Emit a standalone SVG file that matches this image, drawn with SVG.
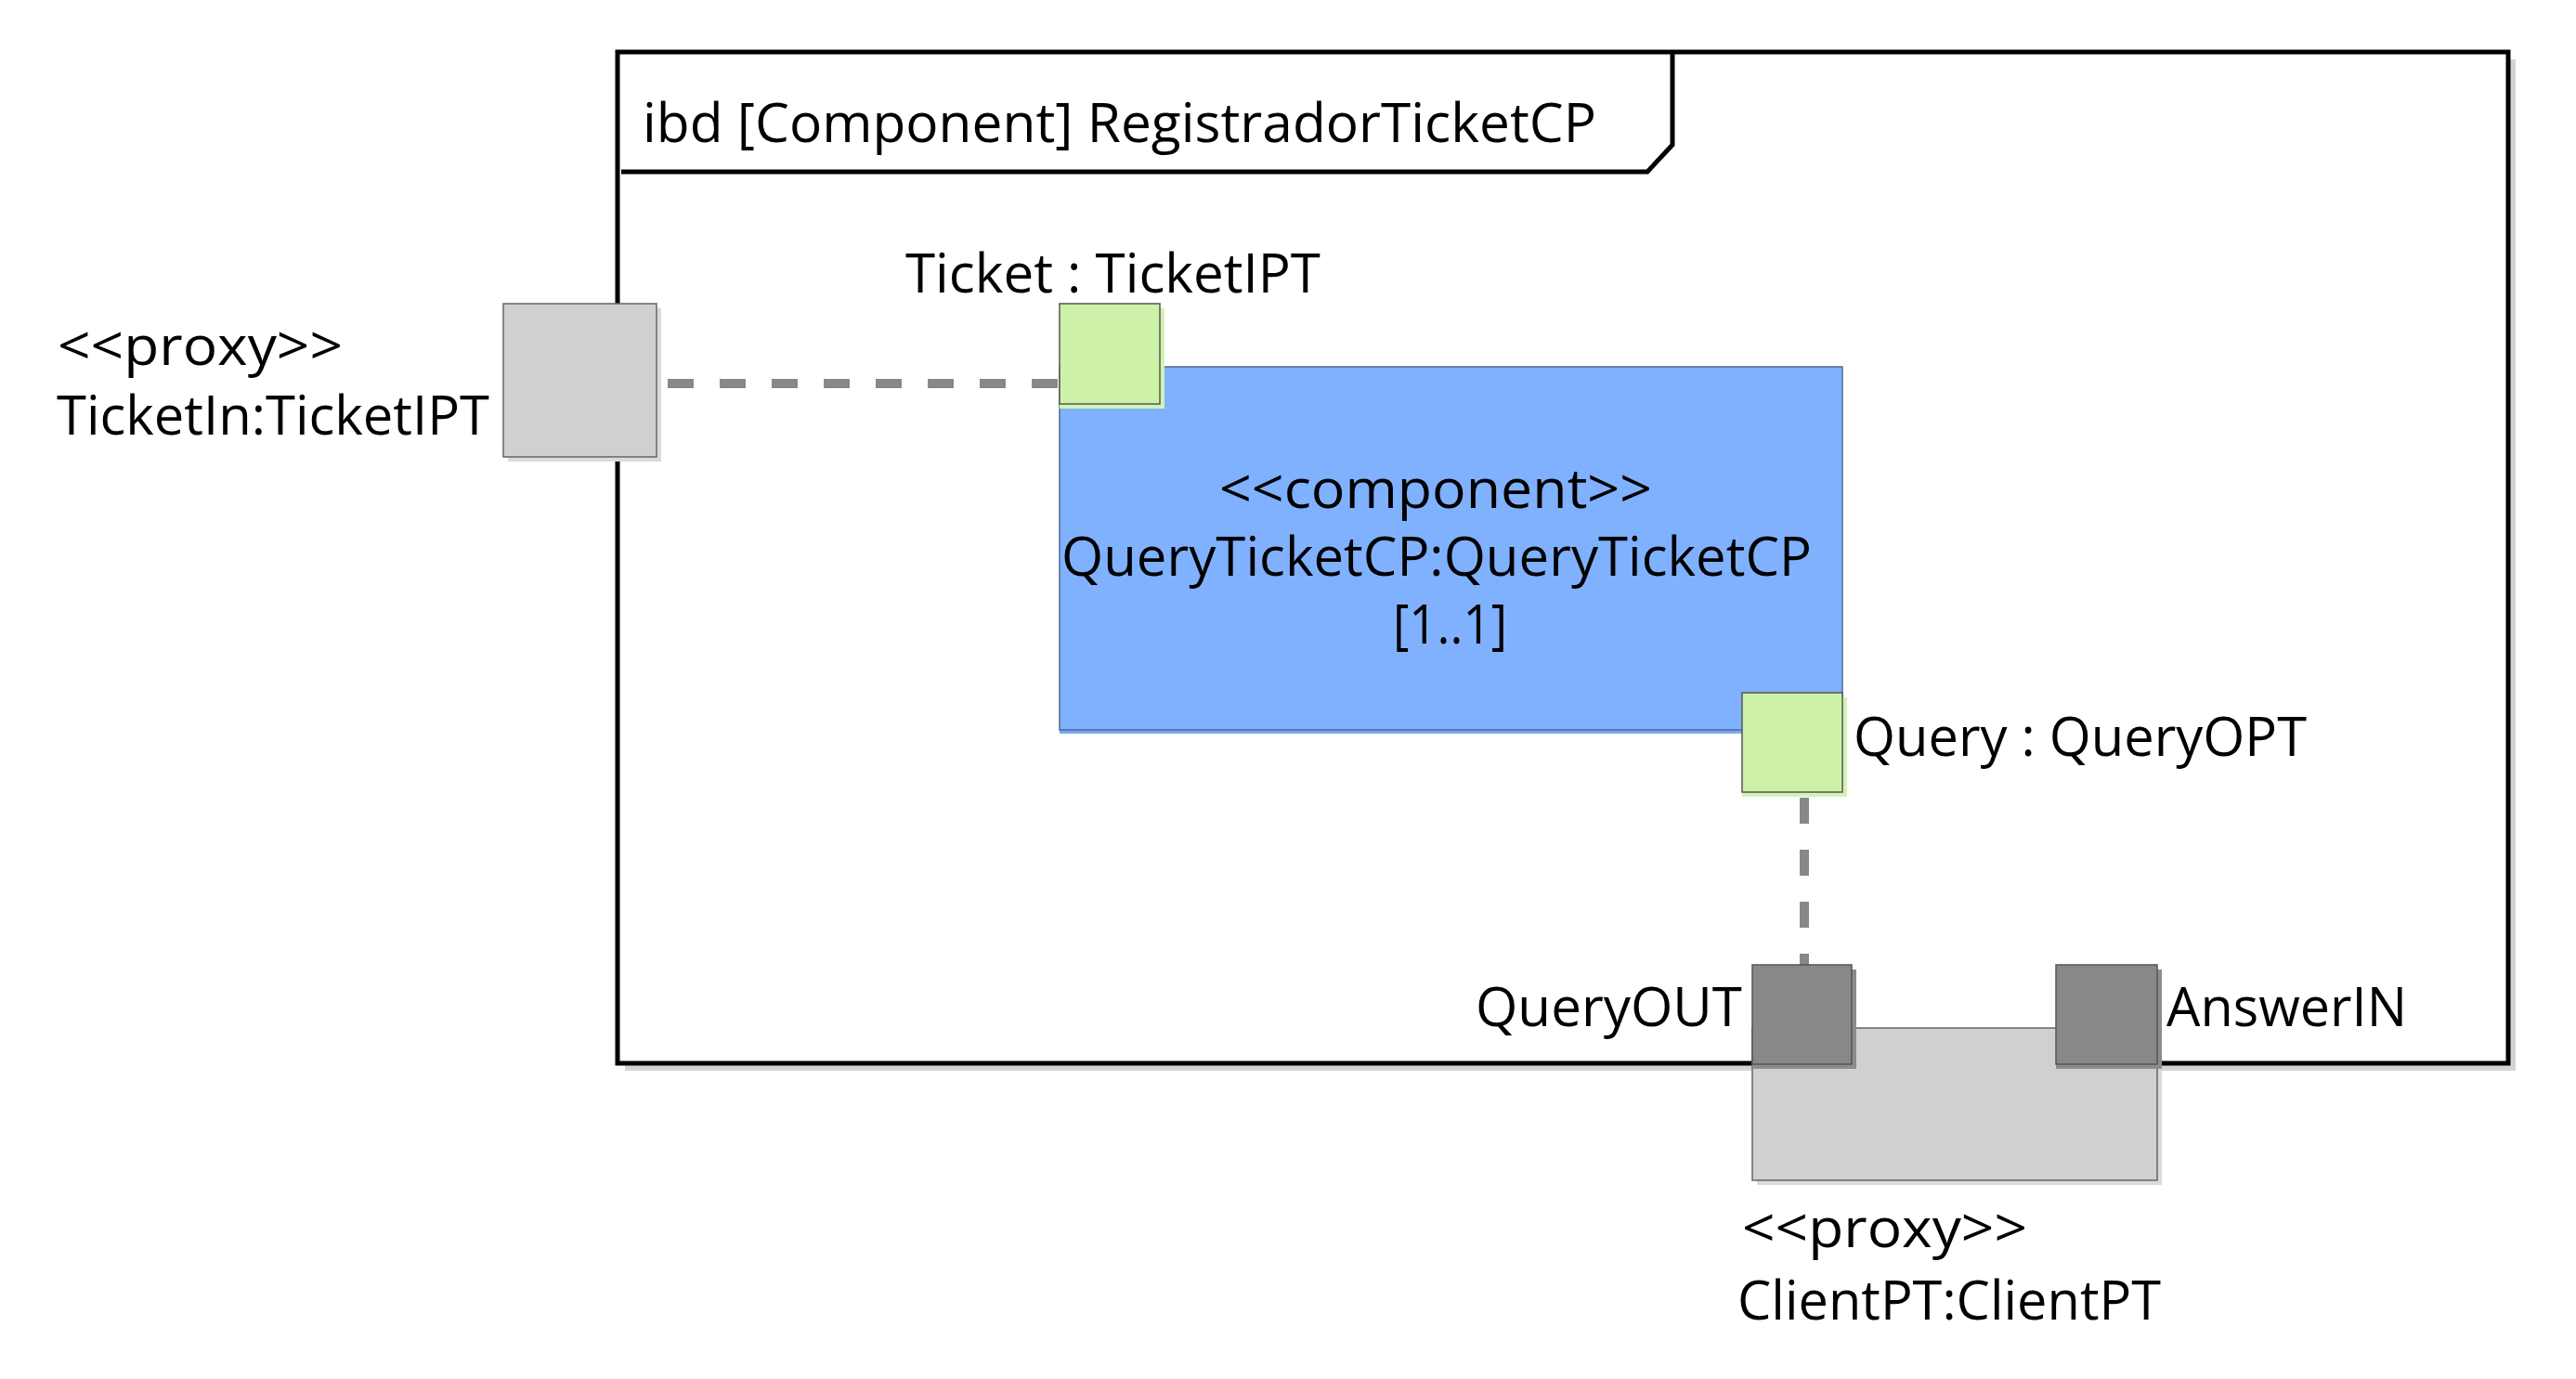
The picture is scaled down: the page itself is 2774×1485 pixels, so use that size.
<svg xmlns="http://www.w3.org/2000/svg" width="2774" height="1485" viewBox="0 0 2774 1485">
<style>
text{font-family:"Open Sans","Noto Sans","DejaVu Sans",sans-serif;font-size:58px;fill:#000}
.frame{fill:#fff;stroke:#000;stroke-width:5}
.fshadow{fill:#d4d4d8}
.proxy{fill:#d0d0d0;stroke:#666;stroke-width:1.5}
.pshadow{fill:#dadada}
.port{fill:#cdf1a7;stroke:#555;stroke-width:1.5}
.portsh{fill:#d3f2b3}
.dport{fill:#888;stroke:#555;stroke-width:1.5}
.dportsh{fill:#8c8c8c}
.comp{fill:#80b1ff;stroke:#4f6990;stroke-width:1.5}
.compsh{fill:#7aa8f2}
.conn{fill:none;stroke:#888;stroke-width:10;stroke-dasharray:28 28}
</style>
<g id="frame">
<rect class="fshadow" x="673" y="64" width="2036" height="1089"/>
<rect class="frame" x="665" y="56" width="2036" height="1089"/>
<polyline points="669,185 1774,185 1801,156 1801,56" fill="none" stroke="#000" stroke-width="5"/>
<text x="692" y="153" textLength="1027" lengthAdjust="spacingAndGlyphs">ibd [Component] RegistradorTicketCP</text>
</g>
<g id="connectors">
<line class="conn" x1="719" y1="413" x2="1141" y2="413"/>
<line class="conn" x1="1943" y1="859" x2="1943" y2="1039"/>
</g>
<g id="TicketIn">
<rect class="pshadow" x="547" y="332" width="165" height="165"/>
<rect class="proxy" x="542" y="327" width="165" height="165"/>
<text x="62" y="393" textLength="307" lengthAdjust="spacingAndGlyphs">&lt;&lt;proxy&gt;&gt;</text>
<text x="61" y="468" textLength="466" lengthAdjust="spacingAndGlyphs">TicketIn:TicketIPT</text>
</g>
<g id="QueryTicketCP">
<rect class="compsh" x="1141" y="399" width="843" height="391"/>
<rect class="comp" x="1141" y="395" width="843" height="391"/>
<text x="1313" y="547" textLength="466" lengthAdjust="spacingAndGlyphs">&lt;&lt;component&gt;&gt;</text>
<text x="1143" y="620" textLength="808" lengthAdjust="spacingAndGlyphs">QueryTicketCP:QueryTicketCP</text>
<text x="1500" y="693" textLength="123" lengthAdjust="spacingAndGlyphs">[1..1]</text>
</g>
<g id="TicketPort">
<rect class="portsh" x="1141" y="332" width="113" height="108"/>
<rect class="port" x="1141" y="327" width="108" height="108"/>
<text x="975" y="315" textLength="447" lengthAdjust="spacingAndGlyphs">Ticket : TicketIPT</text>
</g>
<g id="QueryPort">
<rect class="portsh" x="1876" y="751" width="113" height="107"/>
<rect class="port" x="1876" y="746" width="108" height="107"/>
<text x="1996" y="814" textLength="488" lengthAdjust="spacingAndGlyphs">Query : QueryOPT</text>
</g>
<g id="ClientPT">
<rect class="pshadow" x="1892" y="1112" width="436" height="164"/>
<rect class="proxy" x="1887" y="1107" width="436" height="164"/>
<text x="1876" y="1343" textLength="307" lengthAdjust="spacingAndGlyphs">&lt;&lt;proxy&gt;&gt;</text>
<text x="1871" y="1421" textLength="456" lengthAdjust="spacingAndGlyphs">ClientPT:ClientPT</text>
</g>
<g id="QueryOUT">
<rect class="dportsh" x="1887" y="1044" width="112" height="107"/>
<rect class="dport" x="1887" y="1039" width="107" height="107"/>
<text x="1589" y="1105" textLength="287" lengthAdjust="spacingAndGlyphs">QueryOUT</text>
</g>
<g id="AnswerIN">
<rect class="dportsh" x="2214" y="1044" width="114" height="107"/>
<rect class="dport" x="2214" y="1039" width="109" height="107"/>
<text x="2333" y="1105" textLength="259" lengthAdjust="spacingAndGlyphs">AnswerIN</text>
</g>
</svg>
